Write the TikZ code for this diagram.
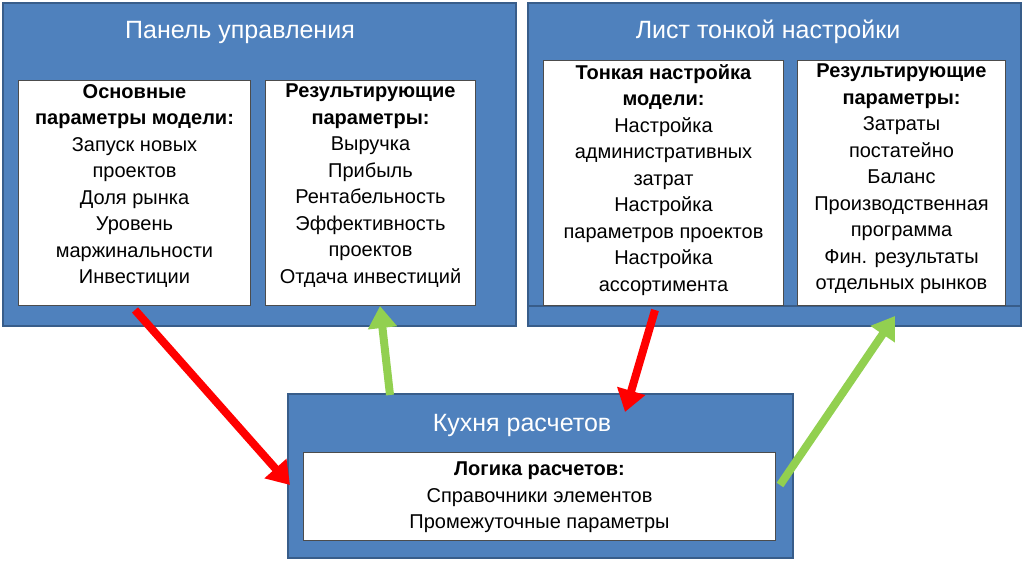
\documentclass[tikz,border=0pt]{standalone}
\usepackage{fontspec}
\setmainfont{Liberation Sans}
\usetikzlibrary{arrows.meta}
\definecolor{panelblue}{HTML}{4F81BD}
\definecolor{paneledge}{HTML}{385D8A}
\definecolor{arrred}{HTML}{FF0000}
\definecolor{arrgreen}{HTML}{92D050}
\tikzset{
    panel/.style={fill=panelblue,draw=paneledge,line width=2pt,anchor=north west,inner sep=0pt},
    title/.style={text=white,font=\fontsize{25}{30}\selectfont},
    card/.style={fill=white,draw=black!70,line width=1pt,anchor=north west,inner sep=0pt},
    cardtext/.style={align=center,font=\fontsize{20}{26.5}\selectfont,anchor=north,inner sep=4pt},
    flow/.style={line width=8pt,-{Triangle[length=22pt,width=28pt]}},
}
\begin{document}
\begin{tikzpicture}[x=1pt,y=-1pt]
    \useasboundingbox (0,0) rectangle (1024,583);
    % панели
    \node[panel,minimum width=513,minimum height=323] (left) at (2,2) {};
    \node[panel,minimum width=493,minimum height=303] (right) at (527,2) {};
    \node[panel,minimum width=493,minimum height=20] (tray) at (527,305) {};
    \node[panel,minimum width=505,minimum height=164] (kitchen) at (287,393) {};
    \node[title] (lefttitle) at (240,32) {Панель управления};
    \node[title] (righttitle) at (768,32) {Лист тонкой настройки};
    \node[title] (kitchentitle) at (522,425) {Кухня расчетов};
    % белые карточки
    \node[card,minimum width=232,minimum height=225] (basic) at (18,80) {};
    \node[card,minimum width=210,minimum height=225] (result) at (265,80) {};
    \node[card,minimum width=240,minimum height=245] (tuning) at (543,60) {};
    \node[card,minimum width=208,minimum height=245] (result2) at (797,60) {};
    \node[card,minimum width=472,minimum height=88] (logic) at (303,452) {};
    \node[cardtext] at (basic.north) {\textbf{Основные}\\\textbf{параметры модели:}\\Запуск новых\\проектов\\Доля рынка\\Уровень\\маржинальности\\Инвестиции};
    \node[cardtext] at (result.north) {\textbf{Результирующие}\\\textbf{параметры:}\\Выручка\\Прибыль\\Рентабельность\\Эффективность\\проектов\\Отдача инвестиций};
    \node[cardtext] at (tuning.north) {\textbf{Тонкая настройка}\\\textbf{модели:}\\Настройка\\административных\\затрат\\Настройка\\параметров проектов\\Настройка\\ассортимента};
    \node[cardtext] at (result2.north) {\textbf{Результирующие}\\\textbf{параметры:}\\Затраты\\постатейно\\Баланс\\Производственная\\программа\\Фин. результаты\\отдельных рынков};
    \node[cardtext] at ([yshift=-6]logic.north) {\textbf{Логика расчетов:}\\Справочники элементов\\Промежуточные параметры};
    % стрелки
    \coordinate (a1) at (135,310); \coordinate (b1) at (290,485);
    \coordinate (a2) at (390,395); \coordinate (b2) at (380,306);
    \coordinate (a3) at (655,310); \coordinate (b3) at (625,412);
    \coordinate (a4) at (780,485); \coordinate (b4) at (895,316);
    \draw[flow,arrred] (a1) -- (b1);
    \draw[flow,arrgreen] (a2) -- (b2);
    \draw[flow,arrred] (a3) -- (b3);
    \draw[flow,arrgreen] (a4) -- (b4);
\end{tikzpicture}
\end{document}
